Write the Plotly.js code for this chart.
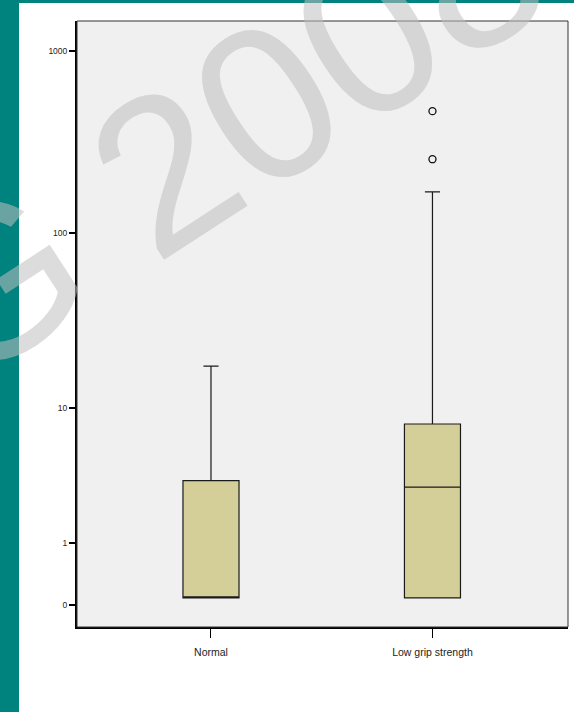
<!DOCTYPE html>
<html>
<head>
<meta charset="utf-8">
<script src="https://cdn.plot.ly/plotly-3.0.1.min.js"></script>
<style>
  html, body { margin: 0; padding: 0; background: #ffffff; }
  #chart { width: 574px; height: 712px; }
</style>
</head>
<body>
<div id="chart"></div>
<script>
// Groups along the x axis
const categories = ['Normal', 'Low grip strength'];

// Box statistics per group (raw values, before the +1 log shift)
const lowerFence = [0, 0];
const q1Values = [0, 0];
const medianValues = [0, 3.05];
const q3Values = [3.4, 8];
const upperFence = [17.7, 168];

// Individual outliers
const outlierGroup = ['Low grip strength', 'Low grip strength'];
const outlierValues = [467, 254];

// Y axis ticks (the zero tick sits just under the floor of the shifted log axis)
const yTickLabels = ['0', '1', '10', '100', '1000'];
const yTickValues = [-0.086, 1, 10, 100, 1000];

// The axis is logarithmic in (value + 1) so that zero can be shown
const shift = v => v + 1;

const W = 574, H = 712;
const M = { l: 77, r: 6, t: 21, b: 85 };
const plotW = W - M.l - M.r, plotH = H - M.t - M.b;
const px = x => (x - M.l) / plotW;        // page x pixel -> paper x
const py = y => (H - M.b - y) / plotH;    // page y pixel -> paper y

const teal = '#00827f';
const narrow = '"Liberation Sans Narrow", "Arial Narrow", "Liberation Sans", Arial, sans-serif';

const boxTrace = {
  type: 'box',
  x: categories,
  q1: q1Values.map(shift),
  median: medianValues.map(shift),
  q3: q3Values.map(shift),
  lowerfence: lowerFence.map(shift),
  upperfence: upperFence.map(shift),
  boxpoints: false,
  width: 0.253,
  whiskerwidth: 0.27,
  fillcolor: '#d4cf99',
  line: { color: '#1a1a1a', width: 1.2 },
  hoverinfo: 'skip',
  showlegend: false
};

const outlierTrace = {
  type: 'scatter',
  mode: 'markers',
  x: outlierGroup,
  y: outlierValues.map(shift),
  marker: { symbol: 'circle-open', size: 7, color: '#111', line: { width: 1.3, color: '#111' } },
  hoverinfo: 'skip',
  showlegend: false,
  cliponaxis: false
};

const layout = {
  width: W,
  height: H,
  margin: M,
  paper_bgcolor: '#ffffff',
  plot_bgcolor: '#f0f0f0',
  showlegend: false,
  font: { family: narrow, color: '#222' },
  xaxis: {
    type: 'category',
    range: [-0.605, 1.612],
    showgrid: false,
    zeroline: false,
    showline: true,
    linecolor: '#000',
    linewidth: 2,
    ticks: 'outside',
    ticklen: 9,
    tickwidth: 1,
    tickcolor: '#000',
    ticklabelstandoff: 5,
    tickfont: { family: narrow, size: 10.5, color: '#222' }
  },
  yaxis: {
    type: 'log',
    range: [-0.1593, 3.1646],
    tickmode: 'array',
    tickvals: yTickValues.map(shift),
    ticktext: yTickLabels,
    showgrid: false,
    zeroline: false,
    showline: true,
    linecolor: '#000',
    linewidth: 2,
    ticks: 'outside',
    ticklen: 6,
    tickwidth: 2,
    tickcolor: '#000',
    tickfont: { family: narrow, size: 8.5, color: '#222' }
  },
  shapes: [
    // page border strips
    { type: 'rect', xref: 'paper', yref: 'paper', x0: px(0), x1: px(19), y0: py(H), y1: py(0),
      fillcolor: teal, line: { width: 0 }, layer: 'below' },
    { type: 'rect', xref: 'paper', yref: 'paper', x0: px(19), x1: px(W), y0: py(3), y1: py(0),
      fillcolor: teal, line: { width: 0 }, layer: 'below' },
    // thin frame on the top and right of the plotting area
    { type: 'rect', xref: 'paper', yref: 'paper', x0: 0, x1: 1, y0: 0, y1: 1,
      line: { color: '#333', width: 1 }, fillcolor: 'rgba(0,0,0,0)', layer: 'above' }
  ],
  annotations: [
    {
      xref: 'paper', yref: 'paper',
      x: px(220), y: py(133),
      xanchor: 'center', yanchor: 'middle',
      text: 'G 2008',
      showarrow: false,
      textangle: -33,
      font: { family: '"Liberation Sans", Arial, sans-serif', size: 218, color: 'rgba(192,192,192,0.55)' }
    }
  ]
};

Plotly.newPlot('chart', [boxTrace, outlierTrace], layout, { displayModeBar: false, staticPlot: true });
</script>
</body>
</html>
